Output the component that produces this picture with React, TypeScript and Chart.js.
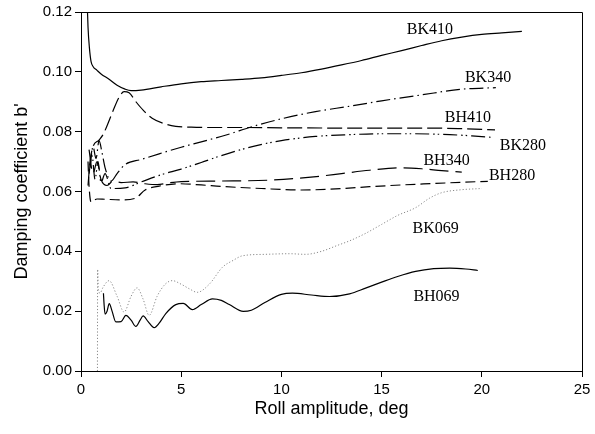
import React, { useEffect, useRef } from 'react';
import { Chart, registerables } from 'chart.js';

Chart.register(...registerables);

// ---- axis ticks ----
const xTickValues = [0, 5, 10, 15, 20, 25];
const yTickValues = [0, 0.02, 0.04, 0.06, 0.08, 0.1, 0.12];

// ---- series (x = roll amplitude, deg ; y = damping coefficient b') ----
const bk410X = [0.3, 0.35, 0.42, 0.5, 0.6, 0.8, 1.0, 1.4, 1.8, 2.2, 2.5, 3, 4, 5, 6, 7, 8, 9, 10, 11, 12, 13, 14, 15, 16, 17, 18, 19, 20, 21, 22];
const bk410Y = [0.125, 0.115, 0.108, 0.1035, 0.1018, 0.1005, 0.0993, 0.0975, 0.0955, 0.0942, 0.0937, 0.0939, 0.095, 0.096, 0.0967, 0.0971, 0.0975, 0.098, 0.0988, 0.0997, 0.1009, 0.1023, 0.1038, 0.1055, 0.1071, 0.1088, 0.1104, 0.1116, 0.1125, 0.113, 0.1135];

const bk340X = [0.45, 0.6, 0.75, 0.9, 1.05, 1.2, 1.5, 1.8, 2.2, 3.0, 3.9, 5.0, 6.0, 7.2, 8.6, 10, 11.7, 13.4, 15, 17, 19, 20.7];
const bk340Y = [0.068, 0.075, 0.071, 0.077, 0.073, 0.068, 0.0635, 0.066, 0.069, 0.0707, 0.0726, 0.0748, 0.0766, 0.0788, 0.0818, 0.0843, 0.0867, 0.0885, 0.0903, 0.0923, 0.0942, 0.0947];

const bh410X = [0.35, 0.45, 0.6, 0.9, 1.1, 1.3, 1.6, 1.9, 2.15, 2.4, 2.74, 3.1, 3.55, 4.1, 4.73, 5.5, 6.4, 8, 10, 13.4, 17.5, 19, 20.66];
const bh410Y = [0.062, 0.07, 0.075, 0.0772, 0.079, 0.082, 0.087, 0.0915, 0.0934, 0.093, 0.09, 0.0872, 0.0845, 0.0828, 0.0818, 0.0815, 0.0814, 0.0814, 0.0813, 0.0812, 0.0812, 0.081, 0.0806];

const bk280X = [0.4, 0.55, 0.7, 0.85, 1.0, 1.2, 1.5, 2.2, 3.0, 4.0, 5.0, 6.0, 7.0, 8.6, 10, 11.7, 13.4, 15, 16.5, 18.4, 19.5, 20.5];
const bk280Y = [0.066, 0.072, 0.064, 0.07, 0.063, 0.066, 0.061, 0.0612, 0.0632, 0.0656, 0.0675, 0.0697, 0.072, 0.0751, 0.077, 0.0784, 0.079, 0.0793, 0.0793, 0.079, 0.0786, 0.0781];

const bh340X = [0.4, 0.6, 0.8, 1.0, 1.3, 1.6, 2.0, 2.6, 3.2, 3.8, 4.4, 5, 7, 9.4, 11.9, 13, 14.4, 16, 17, 18, 19];
const bh340Y = [0.074, 0.066, 0.07, 0.064, 0.062, 0.0635, 0.063, 0.0632, 0.0626, 0.0623, 0.0629, 0.0633, 0.0635, 0.0638, 0.0651, 0.066, 0.0671, 0.0679, 0.0676, 0.067, 0.0665];

const bh280X = [0.35, 0.4, 0.5, 0.8, 1.2, 2.0, 2.7, 3.2, 3.9, 4.9, 6, 7, 9, 11, 13, 14.4, 16, 17.7, 19, 20.3];
const bh280Y = [0.07, 0.062, 0.0565, 0.0575, 0.0574, 0.0572, 0.0577, 0.0605, 0.0618, 0.0626, 0.0622, 0.0617, 0.061, 0.0605, 0.061, 0.0616, 0.0622, 0.0627, 0.0631, 0.0634];

const bk069X = [0.82, 0.83, 0.86, 0.95, 1.1, 1.4, 1.8, 2.15, 2.5, 2.8, 3.1, 3.4, 3.8, 4.2, 4.56, 5.0, 5.4, 5.8, 6.4, 7.06, 7.6, 8.05, 9.2, 10.4, 11.2, 12.0, 12.8, 13.4, 14.2, 15, 15.8, 16.7, 17.4, 18, 19, 20];
const bk069Y = [0.0, 0.034, 0.028, 0.026, 0.028, 0.0302, 0.025, 0.0197, 0.025, 0.0278, 0.024, 0.0186, 0.025, 0.029, 0.0302, 0.029, 0.0275, 0.0263, 0.029, 0.0347, 0.037, 0.0385, 0.039, 0.0392, 0.039, 0.04, 0.042, 0.0435, 0.046, 0.049, 0.052, 0.0546, 0.0578, 0.0596, 0.0606, 0.061];

const bh069X = [1.12, 1.15, 1.2, 1.3, 1.41, 1.55, 1.74, 2.0, 2.24, 2.5, 2.74, 2.95, 3.1, 3.35, 3.65, 3.9, 4.23, 4.73, 5.1, 5.56, 6.0, 6.56, 7.0, 7.4, 8.1, 8.5, 9.2, 10.0, 10.55, 11.5, 12.4, 13.4, 14.2, 15, 15.8, 16.7, 17.6, 18.4, 19.2, 19.8];
const bh069Y = [0.026, 0.0225, 0.019, 0.02, 0.0225, 0.02, 0.0164, 0.0165, 0.0186, 0.017, 0.0149, 0.017, 0.0184, 0.0165, 0.0145, 0.016, 0.0192, 0.0222, 0.0226, 0.0205, 0.0222, 0.0241, 0.0236, 0.0222, 0.0199, 0.0203, 0.023, 0.0256, 0.026, 0.0254, 0.0249, 0.0258, 0.0277, 0.0297, 0.0316, 0.0333, 0.0342, 0.0344, 0.0341, 0.0336];

// ---- in-plot series labels (data coordinates) ----
const labelTexts = ['BK410', 'BK340', 'BH410', 'BK280', 'BH340', 'BH280', 'BK069', 'BH069'];
const labelX = [17.41, 20.31, 19.31, 22.05, 18.24, 21.51, 17.7, 17.74];
const labelY = [0.1141, 0.0981, 0.0846, 0.0752, 0.0704, 0.0651, 0.0474, 0.0249];

const zip = (xs: number[], ys: number[]) => xs.map((x, i) => ({ x, y: ys[i] }));

const framePlugin = {
  id: 'frame',
  afterDatasetsDraw(chart: any) {
    const { ctx, chartArea } = chart;
    ctx.save();
    ctx.strokeStyle = '#000';
    ctx.lineWidth = 1;
    ctx.beginPath();
    ctx.moveTo(Math.round(chartArea.left) + 0.5, Math.round(chartArea.top) + 0.5);
    ctx.lineTo(Math.round(chartArea.right) + 0.5, Math.round(chartArea.top) + 0.5);
    ctx.lineTo(Math.round(chartArea.right) + 0.5, Math.round(chartArea.bottom) + 0.5);
    ctx.stroke();
    ctx.restore();
  },
};

const labelPlugin = {
  id: 'seriesLabels',
  afterDatasetsDraw(chart: any) {
    const { ctx } = chart;
    const xs = chart.scales.x;
    const ys = chart.scales.y;
    ctx.save();
    ctx.font = '16px "Liberation Serif"';
    ctx.fillStyle = '#000';
    ctx.textAlign = 'center';
    ctx.textBaseline = 'middle';
    labelTexts.forEach((t, i) => {
      ctx.fillText(t, xs.getPixelForValue(labelX[i]), ys.getPixelForValue(labelY[i]));
    });
    ctx.restore();
  },
};

export default function App() {
  const ref = useRef<HTMLCanvasElement>(null);
  useEffect(() => {
    const base = {
      pointRadius: 0,
      borderWidth: 1.2,
      fill: false,
      cubicInterpolationMode: 'monotone' as const,
      borderColor: '#000',
    };
    const chart = new Chart(ref.current!, {
      type: 'line',
      data: {
        datasets: [
          { ...base, label: 'BK410', data: zip(bk410X, bk410Y) },
          { ...base, label: 'BK340', data: zip(bk340X, bk340Y), borderDash: [14, 4, 1.5, 4] },
          { ...base, label: 'BH410', data: zip(bh410X, bh410Y), borderDash: [15, 5] },
          { ...base, label: 'BK280', data: zip(bk280X, bk280Y), borderDash: [14, 4, 1.5, 3, 1.5, 4] },
          { ...base, label: 'BH340', data: zip(bh340X, bh340Y), borderDash: [19, 7] },
          { ...base, label: 'BH280', data: zip(bh280X, bh280Y), borderDash: [10, 5] },
          { ...base, label: 'BK069', data: zip(bk069X, bk069Y), borderDash: [1.2, 2], borderColor: '#8a8a8a', borderWidth: 1 },
          { ...base, label: 'BH069', data: zip(bh069X, bh069Y) },
        ],
      },
      options: {
        animation: false,
        responsive: false,
        devicePixelRatio: 1,
        layout: { padding: { top: 10, right: 13, left: 0, bottom: 0 } },
        plugins: { legend: { display: false }, tooltip: { enabled: false } },
        scales: {
          x: {
            type: 'linear',
            min: 0,
            max: 25,
            afterFit: (s: any) => { s.height = 63; },
            afterBuildTicks: (s: any) => { s.ticks = xTickValues.map((v) => ({ value: v })); },
            grid: { display: true, drawOnChartArea: false, tickLength: 6, color: '#000' },
            border: { display: true, color: '#000', width: 1 },
            ticks: {
              color: '#000',
              padding: 4,
              font: { family: '"Liberation Sans"', size: 15 },
              callback: (v: any) => String(v),
              maxRotation: 0,
            },
            title: {
              display: true,
              text: 'Roll amplitude, deg',
              color: '#000',
              font: { family: '"Liberation Sans"', size: 18 },
              padding: { top: 0, bottom: 14 },
            },
          },
          y: {
            type: 'linear',
            min: 0,
            max: 0.12,
            afterFit: (s: any) => { s.width = 81; },
            afterBuildTicks: (s: any) => { s.ticks = yTickValues.map((v) => ({ value: v })); },
            grid: { display: true, drawOnChartArea: false, tickLength: 6, color: '#000' },
            border: { display: true, color: '#000', width: 1 },
            ticks: {
              color: '#000',
              padding: 3,
              font: { family: '"Liberation Sans"', size: 15 },
              callback: (v: any) => Number(v).toFixed(2),
            },
            title: {
              display: true,
              text: "Damping coefficient b'",
              color: '#000',
              font: { family: '"Liberation Sans"', size: 18 },
              padding: { top: 11, bottom: 0 },
            },
          },
        },
      },
      plugins: [framePlugin, labelPlugin],
    });
    return () => chart.destroy();
  }, []);
  return (
    <div style={{ position: 'fixed', left: 0, top: 0, width: 595, height: 434, background: '#fff' }}>
      <canvas ref={ref} width={595} height={434} />
    </div>
  );
}
